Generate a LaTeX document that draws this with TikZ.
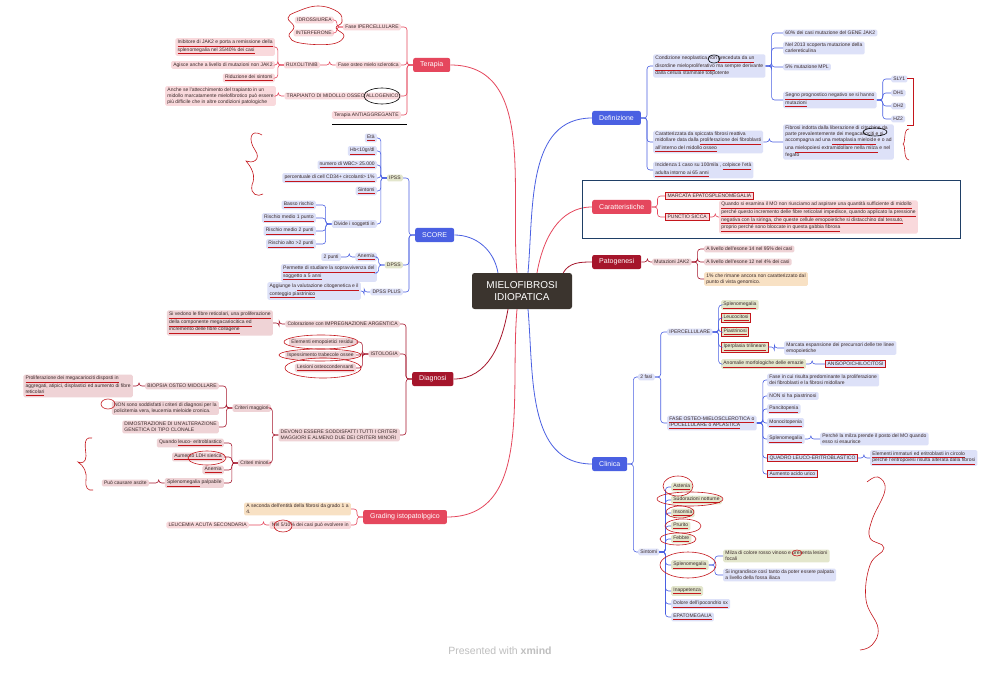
\documentclass[tikz,border=0pt]{standalone}
\usepackage{fontspec}
\setmainfont{Liberation Sans}
\usetikzlibrary{calc}
\definecolor{rootc}{HTML}{3B342E}
\definecolor{redm}{HTML}{E5475D}
\definecolor{redd}{HTML}{A5152B}
\definecolor{bluem}{HTML}{4A60E2}
\definecolor{pinkl}{HTML}{F9D9DC}
\definecolor{pinkd}{HTML}{EFD3D6}
\definecolor{bluel}{HTML}{DDE1F8}
\definecolor{hlg}{HTML}{E3E6CC}
\definecolor{hly}{HTML}{F8E1C4}
\definecolor{txt}{HTML}{3A2A2A}
\definecolor{annot}{HTML}{C4161C}
\definecolor{navy}{HTML}{1F3F66}
\newcommand\rul[1]{{\color{annot}\underline{\color{txt}#1}}}
\begin{document}
\begin{tikzpicture}[x=1pt,y=-1pt,
	every node/.style={font=\fontsize{5pt}{6pt}\selectfont, text=txt, inner xsep=2.2pt, inner ysep=1.6pt, rounded corners=1.5pt, align=left},
	root/.style={fill=rootc, text=white, font=\fontsize{10pt}{11.5pt}\selectfont, minimum width=100pt, minimum height=36pt, align=center, rounded corners=2.5pt},
	topic/.style={text=white, font=\fontsize{7pt}{8.5pt}\selectfont, minimum height=14pt, inner xsep=7pt, rounded corners=2pt},
	tred/.style={topic, fill=redm}, tdark/.style={topic, fill=redd}, tblue/.style={topic, fill=bluem},
	sp/.style={fill=pinkl}, sd/.style={fill=pinkd}, sb/.style={fill=bluel}, sg/.style={fill=hlg}, sy/.style={fill=hly},
	rbox/.style={draw=annot, line width=0.7pt, rounded corners=0pt},
	br/.style={draw=#1, line width=0.6pt, rounded corners=3pt},
	tol/.style={to path={-- ++(-6pt,0) |- (\tikztotarget)}},
	tor/.style={to path={-- ++(6pt,0) |- (\tikztotarget)}},
	main/.style={draw=#1, line width=0.8pt},
	scrib/.style={draw=annot, line width=0.6pt},
	]
	\useasboundingbox[fill=white] (0,0) rectangle (1000,676);
	
	\node[root] (root) at (522,291) {MIELOFIBROSI\\IDIOPATICA};
	
	% Terapia
	\node[tred, anchor=west] (terapia) at (413,65) {Terapia};
	\node[sp, anchor=east] (fip) at (401,27) {Fase IPERCELLULARE};
	\node[sp, anchor=east] (idro) at (334,20) {IDROSSIUREA};
	\node[sp, anchor=east] (inter) at (334,33) {INTERFERONE};
	\node[sp, anchor=east] (fos) at (401,65) {Fase osteo mielo sclerotica};
	\node[sp, anchor=east] (ruxo) at (320,65) {RUXOLITINIB};
	\node[sp, anchor=east] (inib) at (275,47) {\rul{Inibitore di JAK2 e porta a remissione della}\\\rul{splenomegalia nel 35/40\% dei casi}};
	\node[sp, anchor=east] (agis) at (275,65) {Agisce anche a livello di mutazioni non JAK2};
	\node[sp, anchor=east] (ridu) at (275,78) {\rul{Riduzione dei sintomi}};
	\node[sp, anchor=east] (tmo) at (401,96) {TRAPIANTO DI MIDOLLO OSSEO ALLOGENICO};
	\node[sp, anchor=east] (anche) at (276,96) {Anche se l'attecchimento del trapianto in un\\midollo marcatamente mielofibrotico può essere\\più difficile che in altre condizioni patologiche};
	\node[sp, anchor=east] (tant) at (401,115) {Terapia ANTIAGGREGANTE};
	
	% SCORE
	\node[tblue, anchor=west] (score) at (415,235) {SCORE};
	\node[sg, anchor=east] (ipss) at (403,178) {IPSS};
	\node[sb, anchor=east] (eta) at (377,138) {\rul{Età}};
	\node[sb, anchor=east] (hb) at (377,151) {\rul{Hb<10gr/dl}};
	\node[sb, anchor=east] (wbc) at (377,165) {\rul{numero di WBC> 25.000}};
	\node[sb, anchor=east] (cd34) at (377,178) {\rul{percentuale di cell CD34+ circolanti> 1\%}};
	\node[sb, anchor=east] (sint) at (377,191) {\rul{Sintomi}};
	\node[sb, anchor=east] (divi) at (377,224) {Divide i soggetti in};
	\node[sb, anchor=east] (r0) at (316,205) {\rul{Basso rischio}};
	\node[sb, anchor=east] (r1) at (316,218) {\rul{Rischio medio 1 punto}};
	\node[sb, anchor=east] (r2) at (316,231) {\rul{Rischio medio 2 punti}};
	\node[sb, anchor=east] (r3) at (316,244) {\rul{Rischio alto >2 punti}};
	\node[sg, anchor=east] (dpss) at (403,265) {DPSS};
	\node[sb, anchor=east] (anem) at (377,257) {\rul{Anemia}};
	\node[sb, anchor=east] (punti) at (341,257) {2 punti};
	\node[sb, anchor=east] (perm) at (377,273) {\rul{Permette di studiare la sopravvivenza del}\\\rul{soggetto a 5 anni}};
	\node[sb, anchor=east] (dplus) at (403,292) {DPSS PLUS};
	\node[sb, anchor=east] (aggi) at (361,291) {Aggiunge la \rul{valutazione citogenetica e il}\\\rul{conteggio piastrinico}};
	
	% Diagnosi
	\node[tdark, anchor=west] (diagn) at (412,379) {Diagnosi};
	\node[sd, anchor=east] (color) at (400,324) {Colorazione con IMPREGNAZIONE ARGENTICA};
	\node[sd, anchor=east] (vedo) at (273,323) {\rul{Si vedono le fibre reticolari, una proliferazione}\\\rul{della componente megacariocitica ed}\\\rul{incremento delle fibre collagene}};
	\node[sd, anchor=east] (isto) at (400,354) {ISTOLOGIA};
	\node[sd, anchor=east] (elem) at (356,342) {Elementi emopoietici residui};
	\node[sd, anchor=east] (ispe) at (356,355) {Ispessimento trabecole ossee};
	\node[sd, anchor=east] (lesi) at (356,368) {\rul{Lesioni osteocondensanti}};
	\node[sd, anchor=east] (devo) at (400,435) {DEVONO ESSERE SODDISFATTI TUTTI I CRITERI\\MAGGIORI E ALMENO DUE DEI CRITERI MINORI};
	\node[sd, anchor=east] (cmag) at (271,408) {Criteri maggiori};
	\node[sd, anchor=east] (biop) at (219,386) {BIOPSIA OSTEO MIDOLLARE};
	\node[sd, anchor=east] (prol) at (133,386) {\rul{Proliferazione dei megacariociti disposti in}\\aggregati, atipici, displastici ed aumento di fibre\\\rul{reticolari}};
	\node[sd, anchor=east] (nonso) at (219,408) {NON sono soddisfatti i criteri di diagnosi per la\\policitemia vera, leucemia mieloide cronica.};
	\node[sd, anchor=east] (dimo) at (219,427) {DIMOSTRAZIONE DI UN'ALTERAZIONE\\GENETICA DI TIPO CLONALE};
	\node[sd, anchor=east] (cmin) at (271,463) {Criteri minori};
	\node[sd, anchor=east] (quan) at (224,443) {Quando \rul{leuco- eritroblastico}};
	\node[sd, anchor=east] (ldh) at (224,457) {\rul{Aumento LDH sierica}};
	\node[sd, anchor=east] (anem2) at (224,470) {\rul{Anemia}};
	\node[sd, anchor=east] (splp) at (224,483) {\rul{Splenomegalia} palpabile};
	\node[sd, anchor=east] (asci) at (149,483) {Può causare ascite};
	
	% Grading
	\node[tred, anchor=west] (grad) at (363,517) {Grading istopatolpgico};
	\node[sy, anchor=east] (asec) at (351,509) {A seconda dell'entità della fibrosi da grado 1 a\\4.};
	\node[sp, anchor=east] (nel) at (351,525) {Nel 5/10\% dei casi può evolvere in};
	\node[sp, anchor=east] (leuc) at (249,525) {LEUCEMIA ACUTA SECONDARIA};
	
	% Definizione
	\node[tblue, anchor=west] (defi) at (592,118) {Definizione};
	\node[sb, anchor=west] (cond) at (653,66) {Condizione neoplastica non \rul{preceduta da un}\\\rul{disordine mieloproliferativo} ma sempre derivante\\dalla cellula staminale totipotente};
	\node[sb, anchor=west] (g60) at (783,33) {60\% dei casi mutazione del GENE JAK2};
	\node[sb, anchor=west] (g13) at (783,48) {Nel 2013 scoperta mutazione della\\carlereticulina};
	\node[sb, anchor=west] (mpl) at (783,67) {5\% mutazione MPL};
	\node[sb, anchor=west] (segn) at (783,100) {\rul{Segno prognostico negativo se si hanno}\\\rul{mutazioni}};
	\node[sb, anchor=west] (m1) at (891,79) {SLY1};
	\node[sb, anchor=west] (m2) at (891,93) {DH1};
	\node[sb, anchor=west] (m3) at (891,106) {DH2};
	\node[sb, anchor=west] (m4) at (891,119) {HZ2};
	\node[sb, anchor=west] (cara) at (653,142) {Caratterizzata da spiccata fibrosi reattiva\\midollare data dalla \rul{proliferazione dei fibroblasti}\\\rul{all'interno del midollo osseo}};
	\node[sb, anchor=west] (fibr) at (783,142) {Fibrosi indotta dalla liberazione di citochine da\\parte prevalentemente dei megacariociti e si\\accompagna ad una \rul{metaplasia mieloide} e o ad\\una \rul{mielopoiesi extramidollare nella milza} e nel\\fegato};
	\node[sb, anchor=west] (inci) at (653,170) {Incidenza 1 caso su 100mila , \rul{colpisce l'età}\\\rul{adulta intorno ai 65 anni}};
	
	% Caratteristiche
	\node[tred, anchor=west] (cart) at (592,207) {Caratteristiche};
	\node[sp, rbox, anchor=west] (marc) at (665,196) {MARCATA EPATOSPLENOMEGALIA};
	\node[sp, rbox, anchor=west] (punc) at (665,217) {PUNCTIO SICCA};
	\node[sp, anchor=west] (quand) at (719,217) {\rul{Quando si esamina il MO non riusciamo ad aspirare una quantità sufficiente di midollo}\\\rul{perché questo incremento delle fibre reticolari impedisce, quando applicato la pressione}\\\rul{negativa con la siringa, che queste cellule emopoietiche si distacchino dal tessuto,}\\\rul{proprio perché sono bloccate in questa gabbia fibrosa}};
	
	% Patogenesi
	\node[tdark, anchor=west] (pato) at (592,262) {Patogenesi};
	\node[sd, anchor=west] (mjak) at (652,262) {Mutazioni JAK2};
	\node[sd, anchor=west] (e14) at (704,249) {A livello dell'esone 14 nel 95\% dei casi};
	\node[sd, anchor=west] (e12) at (704,262) {A livello dell'esone 12 nel 4\% dei casi};
	\node[sy, anchor=west] (e1) at (704,279) {1\% che rimane ancora non caratterizzato dal\\punto di vista genomico.};
	
	% Clinica
	\node[tblue, anchor=west] (clin) at (592,464) {Clinica};
	\node[sb, anchor=west] (fasi) at (638,377) {2 fasi};
	\node[sb, anchor=west] (iper) at (667,332) {IPERCELLULARE};
	\node[sg, anchor=west] (c1) at (721,305) {\rul{Splenomegalia}};
	\node[sg, rbox, anchor=west] (c2) at (721,318) {\rul{Leucocitosi}};
	\node[sg, rbox, anchor=west] (c3) at (721,332) {\rul{Piastrinosi}};
	\node[sg, rbox, anchor=west] (c4) at (721,347) {\rul{Iperplasia trilineare}};
	\node[sg, anchor=west] (c5) at (721,364) {\rul{Anomalie morfologiche delle emazie}};
	\node[sb, anchor=west] (marc2) at (784,348) {Marcata espansione dei precursori delle tre linee\\emopoietiche};
	\node[sb, rbox, anchor=west] (aniso) at (825,364) {ANISOPOICHILOCITOSI};
	\node[sb, anchor=west] (fost) at (667,423) {\rul{FASE OSTEO-MIELOSCLEROTICA o}\\\rul{IPOCELLULARE o APLASTICA}};
	\node[sb, anchor=west] (f1) at (767,380) {Fase in cui risulta predominante la proliferazione\\dei fibroblasti e la fibrosi midollare};
	\node[sb, anchor=west] (f2) at (767,396) {NON si ha piastrinosi};
	\node[sb, anchor=west] (f3) at (767,409) {\rul{Pancitopenia}};
	\node[sb, anchor=west] (f4) at (767,423) {\rul{Monocitopenia}};
	\node[sb, anchor=west] (f5) at (767,439) {\rul{Splenomegalia}};
	\node[sb, anchor=west] (perche) at (820,439) {Perché la milza prende il posto del MO quando\\esso si esaurisce};
	\node[sb, rbox, anchor=west] (f6) at (767,458) {QUADRO LEUCO-ERITROBLASTICO};
	\node[sb, anchor=west] (imma) at (870,458) {\rul{Elementi immaturi ed eritroblasti in circolo}\\\rul{perché l'eritropoiesi risulta alterata dalla fibrosi}};
	\node[sb, rbox, anchor=west] (f7) at (767,474) {Aumento acido urico};
	\node[sb, anchor=west] (sinto) at (638,552) {Sintomi};
	\node[sg, anchor=west] (s1) at (671,487) {\rul{Astenia}};
	\node[sg, anchor=west] (s2) at (671,500) {\rul{Sudorazioni notturne}};
	\node[sg, anchor=west] (s3) at (671,513) {\rul{Insonnia}};
	\node[sg, anchor=west] (s4) at (671,526) {\rul{Prurito}};
	\node[sg, anchor=west] (s5) at (671,539) {\rul{Febbre}};
	\node[sg, anchor=west] (s6) at (671,565) {\rul{Splenomegalia}};
	\node[sg, anchor=west] (milz) at (723,556) {Milza di colore rosso vinoso e presenta lesioni\\focali};
	\node[sb, anchor=west] (ingr) at (723,575) {Si ingrandisce così tanto da poter essere palpata\\a livello della fossa iliaca};
	\node[sg, anchor=west] (s7) at (671,591) {\rul{Inappetenza}};
	\node[sb, anchor=west] (s8) at (671,604) {\rul{Dolore dell'ipocondrio sx}};
	\node[sb, anchor=west] (s9) at (671,617) {\rul{EPATOMEGALIA}};
	
	\node[font=\fontsize{10.5pt}{12pt}\selectfont, text=black!25] (foot) at (500,651) {Presented with \textbf{xmind}};
	
	% main branches
	\draw[main=redm] ([xshift=-5pt]root.north) to[out=95,in=0] (terapia.east);
	\draw[main=bluem] ([xshift=-24pt]root.north) to[out=100,in=0] (score.east);
	\draw[main=bluem] ([xshift=6pt]root.north) to[out=85,in=180] (defi.west);
	\draw[main=redm] ([xshift=15pt]root.north) to[out=80,in=180] (cart.west);
	\draw[main=redd] ([xshift=-9pt]root.north east) to[out=60,in=180] (pato.west);
	\draw[main=redd] ([xshift=-14pt]root.south) to[out=-100,in=0] (diagn.east);
	\draw[main=redm] ([xshift=-5pt]root.south) to[out=-95,in=0] (grad.east);
	\draw[main=bluem] ([xshift=6pt]root.south) to[out=-85,in=180] (clin.west);
	
	% left side trees
	\foreach \c in {fip,fos,tmo,tant} \draw[br=redm] (terapia.west) to[tol] (\c.east);
	\foreach \c in {idro,inter} \draw[br=redm] (fip.west) to[tol] (\c.east);
	\draw[br=redm] (fos.west) to[tol] (ruxo.east);
	\foreach \c in {inib,agis,ridu} \draw[br=redm] (ruxo.west) to[tol] (\c.east);
	\draw[br=redm] (tmo.west) to[tol] (anche.east);
	
	\foreach \c in {ipss,dpss,dplus} \draw[br=bluem] (score.west) to[tol] (\c.east);
	\foreach \c in {eta,hb,wbc,cd34,sint,divi} \draw[br=bluem] (ipss.west) to[tol] (\c.east);
	\foreach \c in {r0,r1,r2,r3} \draw[br=bluem] (divi.west) to[tol] (\c.east);
	\foreach \c in {anem,perm} \draw[br=bluem] (dpss.west) to[tol] (\c.east);
	\draw[br=bluem] (anem.west) to[tol] (punti.east);
	\draw[br=bluem] (dplus.west) to[tol] (aggi.east);
	
	\foreach \c in {color,isto,devo} \draw[br=redd] (diagn.west) to[tol] (\c.east);
	\draw[br=redd] (color.west) to[tol] (vedo.east);
	\foreach \c in {elem,ispe,lesi} \draw[br=redd] (isto.west) to[tol] (\c.east);
	\foreach \c in {cmag,cmin} \draw[br=redd] (devo.west) to[tol] (\c.east);
	\foreach \c in {biop,nonso,dimo} \draw[br=redd] (cmag.west) to[tol] (\c.east);
	\draw[br=redd] (biop.west) to[tol] (prol.east);
	\foreach \c in {quan,ldh,anem2,splp} \draw[br=redd] (cmin.west) to[tol] (\c.east);
	\draw[br=redd] (splp.west) to[tol] (asci.east);
	
	\foreach \c in {asec,nel} \draw[br=redm] (grad.west) to[tol] (\c.east);
	\draw[br=redm] (nel.west) to[tol] (leuc.east);
	
	% right side trees
	\foreach \c in {cond,cara,inci} \draw[br=bluem] (defi.east) to[tor] (\c.west);
	\foreach \c in {g60,g13,mpl,segn} \draw[br=bluem] (cond.east) to[tor] (\c.west);
	\foreach \c in {m1,m2,m3,m4} \draw[br=bluem] (segn.east) to[tor] (\c.west);
	\draw[br=bluem] (cara.east) to[tor] (fibr.west);
	
	\foreach \c in {marc,punc} \draw[br=redm] (cart.east) to[tor] (\c.west);
	\draw[br=redm] (punc.east) to[tor] (quand.west);
	
	\draw[br=redd] (pato.east) to[tor] (mjak.west);
	\foreach \c in {e14,e12,e1} \draw[br=redd] (mjak.east) to[tor] (\c.west);
	
	\foreach \c in {fasi,sinto} \draw[br=bluem] (clin.east) to[tor] (\c.west);
	\foreach \c in {iper,fost} \draw[br=bluem] (fasi.east) to[tor] (\c.west);
	\foreach \c in {c1,c2,c3,c4,c5} \draw[br=bluem] (iper.east) to[tor] (\c.west);
	\draw[br=bluem] (c4.east) to[tor] (marc2.west);
	\draw[br=bluem] (c5.east) to[tor] (aniso.west);
	\foreach \c in {f1,f2,f3,f4,f5,f6,f7} \draw[br=bluem] (fost.east) to[tor] (\c.west);
	\draw[br=bluem] (f5.east) to[tor] (perche.west);
	\draw[br=bluem] (f6.east) to[tor] (imma.west);
	\foreach \c in {s1,s2,s3,s4,s5,s6,s7,s8,s9} \draw[br=bluem] (sinto.east) to[tor] (\c.west);
	\foreach \c in {milz,ingr} \draw[br=bluem] (s6.east) to[tor] (\c.west);
	
	% hand annotations
	\draw[draw=navy, line width=0.8pt] (582,180) rectangle (960,238);
	\draw[scrib] plot[smooth cycle, tension=0.7] coordinates {(296,12) (318,6) (338,12) (342,22) (336,28) (344,36) (332,44) (300,43) (289,36) (294,27) (288,18)};
	\draw[line width=0.6pt] (382,96) ellipse [x radius=18pt, y radius=8pt];
	\draw[line width=0.7pt] (332,124) -- (407,124);
	\draw[scrib] (262,135) .. controls (250,128) and (248,140) .. (255,150) .. controls (262,160) and (252,164) .. (246,161) .. controls (252,168) and (256,176) .. (252,185) .. controls (250,195) and (258,197) .. (263,194);
	\draw[scrib] (321,342) ellipse [x radius=37pt, y radius=7pt];
	\draw[scrib] (320,355) ellipse [x radius=41pt, y radius=6pt];
	\draw[scrib] (323,368) ellipse [x radius=38pt, y radius=10pt];
	\draw[scrib] (108,404) ellipse [x radius=7pt, y radius=5pt];
	\draw[scrib] (207,458) ellipse [x radius=19pt, y radius=7pt];
	\draw[scrib] (92,438) .. controls (82,436) and (86,450) .. (86,456) .. controls (86,462) and (82,464) .. (78,462) .. controls (84,466) and (87,472) .. (86,480) .. controls (85,488) and (88,491) .. (93,490);
	\draw[scrib] (283,526) ellipse [x radius=9pt, y radius=6pt];
	\draw[line width=0.6pt] (714,59) ellipse [x radius=6pt, y radius=4pt];
	\draw[line width=0.6pt] (875,132) ellipse [x radius=12pt, y radius=4pt];
	\draw[scrib] (907,78) -- (913,78) -- (913,125) -- (907,125);
	\draw[scrib] (909,129) .. controls (903,129) and (906,142) .. (903,144) .. controls (906,146) and (903,159) .. (909,160);
	\draw[scrib] (678,486) ellipse [x radius=15pt, y radius=10pt];
	\draw[scrib] (690,499) ellipse [x radius=33pt, y radius=7pt];
	\draw[scrib] (680,512) ellipse [x radius=14pt, y radius=6pt];
	\draw[scrib] (683,526) ellipse [x radius=18pt, y radius=7pt];
	\draw[scrib] (678,539) ellipse [x radius=18pt, y radius=6pt];
	\draw[scrib] (688,565) ellipse [x radius=28pt, y radius=13pt];
	\draw[scrib] (797,553) ellipse [x radius=5pt, y radius=3pt];
	\draw[scrib] plot[smooth, tension=0.7] coordinates {(867,482) (878,477) (885,490) (872,520) (870,538) (884,548) (870,565) (866,600) (878,628) (872,645) (860,650)};
\end{tikzpicture}
\end{document}
